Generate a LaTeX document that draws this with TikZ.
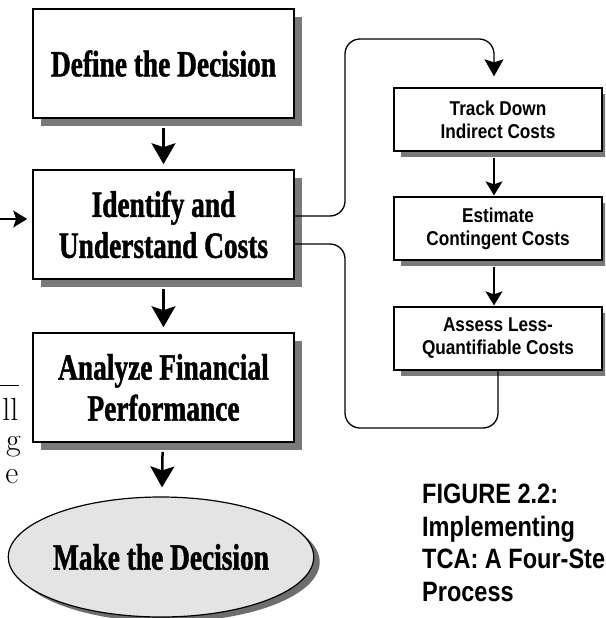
\documentclass[tikz,border=0pt]{standalone}
\usepackage{fontspec}
\usetikzlibrary{arrows.meta,shapes.geometric,shadows}
\newfontfamily\displayfont{Liberation Serif}[FakeStretch=0.74,FakeBold=1.2]
\newfontfamily\condfont{Liberation Sans}[FakeStretch=0.86]
\newfontfamily\capfont{Liberation Sans}[FakeStretch=0.84]
\definecolor{shadowgray}{HTML}{7A7A7A}
\definecolor{ovalfill}{HTML}{E4E4E4}
\definecolor{ovalshadow}{HTML}{6E6E6E}
\begin{document}
\begin{tikzpicture}[x=1pt,y=-1pt,
  bigbox/.style={draw, line width=1.6pt, fill=white, minimum width=261pt,
    minimum height=109pt, inner sep=0pt, align=center,
    font=\displayfont\bfseries\fontsize{37}{41}\selectfont,
    drop shadow={shadow xshift=8pt, shadow yshift=-8pt, fill=shadowgray, opacity=1}},
  smallbox/.style={draw, line width=1.3pt, fill=white, minimum width=208pt,
    minimum height=63pt, inner sep=0pt, align=center,
    font=\condfont\bfseries\fontsize{20}{23}\selectfont,
    drop shadow={shadow xshift=7pt, shadow yshift=-6pt, fill=shadowgray, opacity=1}},
  oval/.style={ellipse, draw, line width=1.2pt, fill=ovalfill, minimum width=302pt,
    minimum height=120pt, inner sep=0pt,
    font=\displayfont\bfseries\fontsize{37}{41}\selectfont,
    drop shadow={shadow xshift=6pt, shadow yshift=-5pt, fill=ovalshadow, opacity=1}},
  bigarrow/.style={line width=2.5pt, -{Stealth[length=21pt,width=24pt,inset=4pt]}},
  smallarrow/.style={line width=1.3pt, -{Stealth[length=14pt,width=17pt,inset=3pt]}},
  looparrow/.style={line width=1.3pt, -{Stealth[length=17pt,width=19pt,inset=3pt]}},
  link/.style={line width=1.3pt, rounded corners=15pt},
  caption/.style={inner sep=0pt, align=left,
    font=\capfont\bfseries\fontsize{28}{32.5}\selectfont},
  bodytext/.style={inner sep=0pt, font=\fontsize{32}{31}\selectfont}]
\useasboundingbox (0,0) rectangle (605,618);
\clip (0,0) rectangle (605,618);

% main four steps
\node[bigbox] (def) at (163.5,63.5) {Define the Decision};
\node[bigbox] (idc) at (163.5,224.5) {Identify and\\Understand Costs};
\node[bigbox] (afp) at (163.5,387.5) {Analyze Financial\\Performance};
\node[oval] (mtd) at (161,557) {Make the Decision};

% cost sub-steps
\node[smallbox] (trk) at (498,119.5) {Track Down\\Indirect Costs};
\node[smallbox] (est) at (498,228.5) {Estimate\\Contingent Costs};
\node[smallbox] (asl) at (498,338.5) {Assess Less-\\Quantifiable Costs};

% main flow
\draw[bigarrow, shorten <=9pt, shorten >=5pt] (def) -- (idc);
\draw[bigarrow, shorten <=9pt, shorten >=5pt] (idc) -- (afp);
\draw[bigarrow, shorten <=9pt, shorten >=9pt] (afp) -- (mtd);

% incoming arrow from the left
\coordinate (inL) at (0,219);
\draw[smallarrow, shorten >=5pt] (inL) -- (inL -| idc.west);

% loop out to the sub-steps and back
\draw[link, looparrow, shorten >=11pt] ([yshift=8.5pt]idc.east) -| (345,39) -| ([xshift=-4pt]trk.north);
\draw[smallarrow, shorten <=6pt, shorten >=1pt] ([xshift=-4pt]trk.south) -- ([xshift=-4pt]est.north);
\draw[smallarrow, shorten <=6pt, shorten >=1pt] ([xshift=-4pt]est.south) -- ([xshift=-4pt]asl.north);
\draw[link] ([yshift=-19.5pt]idc.east) -| (345,428) -| (asl.south);

% caption
\node[caption, anchor=north west] (cap) at (422,484) {FIGURE 2.2:\\Implementing\\TCA: A Four-Step\\Process};

% neighbouring body text
\coordinate (ruleL) at (0,385);
\coordinate (ruleR) at (19,385);
\draw[line width=0.9pt] (ruleL) -- (ruleR);
\node[bodytext, anchor=base east] (t1) at (18.5,420) {ll};
\node[bodytext, anchor=base east] (t2) at (21,450) {g};
\node[bodytext, anchor=base east] (t3) at (18.5,483) {e};
\end{tikzpicture}
\end{document}
